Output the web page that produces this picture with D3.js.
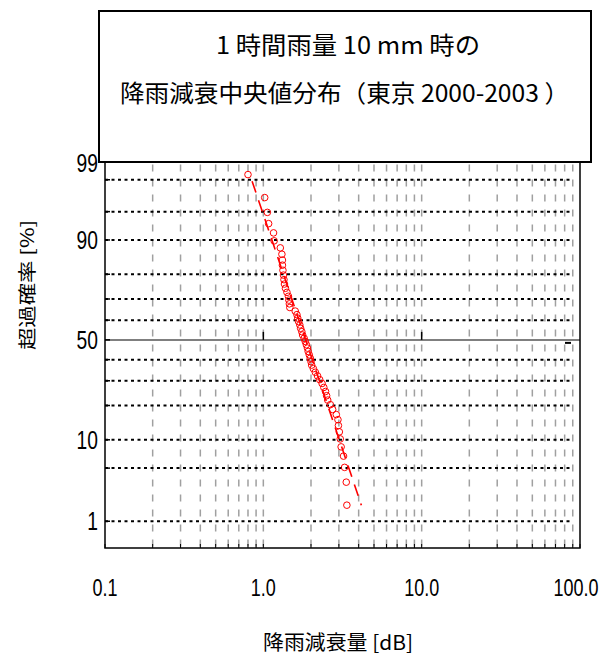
<!DOCTYPE html>
<html>
<head>
<meta charset="utf-8">
<title>降雨減衰中央値分布</title>
<script src="https://d3js.org/d3.v7.min.js"></script>
<style type="text/css">
    body { margin: 0; background: #fff; }
    svg { display: block; }
    .num { font-family: "Liberation Sans", Arial, sans-serif; fill: #000; }
    .jp { font-family: "Noto Sans CJK JP", sans-serif; fill: #000; }
</style>
</head>
<body>
<div id="chart"></div>
<script type="text/javascript">

    // x axis: attenuation [dB] on log scale
    var xTicks = [0.1, 1, 10, 100];
    var xTickLabels = ["0.1", "1.0", "10.0", "100.0"];

    // y axis: exceedance probability [%] on normal probability paper
    var yLines = [98, 95, 90, 80, 70, 60, 40, 30, 20, 10, 5, 1];
    var yLabels = [99, 90, 50, 10, 1];

    // plotted points
    var exceedP = [98.3, 96.6, 94.9, 93.2, 91.5, 89.8, 88.1, 86.4, 84.7, 83.1,
                   81.4, 79.7, 78.0, 76.3, 74.6, 72.9, 71.2, 69.5, 67.8, 66.1,
                   64.4, 62.7, 61.0, 59.3, 57.6, 55.9, 54.2, 52.5, 50.8, 49.2,
                   47.5, 45.8, 44.1, 42.4, 40.7, 39.0, 37.3, 35.6, 33.9, 32.2,
                   30.5, 28.8, 27.1, 25.4, 23.7, 22.0, 20.3, 18.6, 16.9, 15.3,
                   13.6, 11.9, 10.2, 8.5, 6.8, 5.1, 3.4, 1.7];
    var attenDB = [0.80, 1.02, 1.06, 1.08, 1.16, 1.17, 1.28, 1.31, 1.32, 1.32,
                   1.33, 1.34, 1.35, 1.36, 1.38, 1.41, 1.44, 1.45, 1.46, 1.47,
                   1.59, 1.63, 1.65, 1.67, 1.70, 1.72, 1.75, 1.77, 1.81, 1.84,
                   1.87, 1.90, 1.92, 1.95, 1.98, 2.00, 2.02, 2.07, 2.13, 2.20,
                   2.27, 2.35, 2.41, 2.47, 2.51, 2.55, 2.65, 2.74, 2.89, 2.96,
                   2.98, 3.02, 3.06, 3.10, 3.21, 3.26, 3.34, 3.37];

    // fitted log-normal line, two end points
    var fitDB = [0.822, 4.16];
    var fitP = [98.3, 1.7];

    var width = 604, height = 655;
    var pLeft = 105, pRight = 580, pTop = 158.5, pBottom = 548;

    // inverse normal cdf (Acklam)
    function probit(p) {
        var a = [-39.6968302866538, 220.946098424521, -275.928510446969, 138.357751867269, -30.6647980661472, 2.50662827745924],
            b = [-54.4760987982241, 161.585836858041, -155.698979859887, 66.8013118877197, -13.2806815528857],
            c = [-0.00778489400243029, -0.322396458041136, -2.40075827716184, -2.54973253934373, 4.37466414146497, 2.93816398269878],
            d = [0.00778469570904146, 0.32246712907004, 2.445134137143, 3.75440866190742];
        var q, r;
        if (p < 0.02425) {
            q = Math.sqrt(-2 * Math.log(p));
            return (((((c[0]*q+c[1])*q+c[2])*q+c[3])*q+c[4])*q+c[5]) / ((((d[0]*q+d[1])*q+d[2])*q+d[3])*q+1);
        } else if (p > 1 - 0.02425) {
            q = Math.sqrt(-2 * Math.log(1 - p));
            return -(((((c[0]*q+c[1])*q+c[2])*q+c[3])*q+c[4])*q+c[5]) / ((((d[0]*q+d[1])*q+d[2])*q+d[3])*q+1);
        }
        q = p - 0.5; r = q * q;
        return (((((a[0]*r+a[1])*r+a[2])*r+a[3])*r+a[4])*r+a[5])*q / (((((b[0]*r+b[1])*r+b[2])*r+b[3])*r+b[4])*r+1);
    }

    var x = d3.scaleLog().domain([0.1, 100]).range([pLeft, pRight]);
    var zScale = d3.scaleLinear().domain([probit(0.0038), probit(0.99)]).range([pBottom, pTop]);
    function y(p) { return zScale(probit(p / 100)); }

    var svg = d3.select("#chart").append("svg")
        .attr("width", width)
        .attr("height", height);

    // squeeze a text to a narrower width (the original font is condensed)
    function condense(sel, f) {
        sel.each(function() {
            var w = this.getComputedTextLength();
            d3.select(this).attr("textLength", w * f).attr("lengthAdjust", "spacingAndGlyphs");
        });
    }

    var plot = svg.append("g");

    // vertical dashed gridlines
    plot.selectAll(".vgrid")
        .data(x.ticks().filter(function(d) { return d > 0.1 && d < 100; }))
        .enter().append("line")
        .attr("class", "vgrid")
        .attr("x1", function(d) { return x(d); })
        .attr("x2", function(d) { return x(d); })
        .attr("y1", pTop + 6)
        .attr("y2", pBottom)
        .attr("stroke", "#a0a0a0")
        .attr("stroke-width", 1.5)
        .attr("stroke-dasharray", "7,8");

    // horizontal dotted gridlines
    plot.selectAll(".hgrid")
        .data(yLines)
        .enter().append("line")
        .attr("class", "hgrid")
        .attr("x1", pLeft)
        .attr("x2", pRight - 7)
        .attr("y1", function(d) { return y(d); })
        .attr("y2", function(d) { return y(d); })
        .attr("stroke", "#000")
        .attr("stroke-width", 2)
        .attr("stroke-dasharray", "3,3.5");

    // 50% line with major ticks
    plot.append("line")
        .attr("x1", pLeft).attr("x2", pRight)
        .attr("y1", y(50)).attr("y2", y(50))
        .attr("stroke", "#555")
        .attr("stroke-width", 1.5);

    plot.selectAll(".major")
        .data(xTicks.filter(function(d) { return d > 0.1 && d < 100; }))
        .enter().append("line")
        .attr("class", "major")
        .attr("x1", function(d) { return x(d); })
        .attr("x2", function(d) { return x(d); })
        .attr("y1", y(50) - 8)
        .attr("y2", y(50))
        .attr("stroke", "#000")
        .attr("stroke-width", 1.5);

    // small mark near right end of the 50% line
    plot.append("line")
        .attr("x1", pRight - 15).attr("x2", pRight - 9)
        .attr("y1", y(50) + 3).attr("y2", y(50) + 3)
        .attr("stroke", "#000")
        .attr("stroke-width", 2);

    // minor ticks on axes
    plot.selectAll(".btick")
        .data(x.ticks())
        .enter().append("line")
        .attr("x1", function(d) { return x(d); })
        .attr("x2", function(d) { return x(d); })
        .attr("y1", pBottom - 4)
        .attr("y2", pBottom)
        .attr("stroke", "#000");

    plot.selectAll(".ltick")
        .data(yLines.concat([50]))
        .enter().append("line")
        .attr("x1", pLeft)
        .attr("x2", pLeft + 5)
        .attr("y1", function(d) { return y(d); })
        .attr("y2", function(d) { return y(d); })
        .attr("stroke", "#000")
        .attr("stroke-width", 1.5);

    // frame
    plot.append("path")
        .attr("d", "M" + pLeft + "," + pTop + "V" + pBottom + "H" + pRight + "V" + pTop)
        .attr("fill", "none")
        .attr("stroke", "#000")
        .attr("stroke-width", 1.5);

    // fitted line
    plot.append("line")
        .attr("x1", x(fitDB[0])).attr("y1", y(fitP[0]))
        .attr("x2", x(fitDB[1])).attr("y2", y(fitP[1]))
        .attr("stroke", "#f00")
        .attr("stroke-width", 1.6)
        .attr("stroke-dasharray", "12,8")
        .attr("stroke-dashoffset", -7);

    // data points
    plot.selectAll(".pt")
        .data(attenDB.map(function(d, i) { return { db: d, p: exceedP[i] }; }))
        .enter().append("circle")
        .attr("class", "pt")
        .attr("cx", function(d) { return x(d.db); })
        .attr("cy", function(d) { return y(d.p); })
        .attr("r", 3.3)
        .attr("fill", "none")
        .attr("stroke", "#f00")
        .attr("stroke-width", 1);

    // tick labels
    svg.selectAll(".xlab")
        .data(xTicks)
        .enter().append("text")
        .attr("class", "num")
        .attr("x", function(d) { return Math.min(x(d), 576); })
        .attr("y", 596)
        .attr("text-anchor", "middle")
        .style("font-size", "24px")
        .text(function(d, i) { return xTickLabels[i]; })
        .call(condense, 0.75);

    svg.selectAll(".ylab")
        .data(yLabels)
        .enter().append("text")
        .attr("class", "num")
        .attr("x", 98)
        .attr("y", function(d) { return Math.max(y(d), 163) + 9; })
        .attr("text-anchor", "end")
        .style("font-size", "25px")
        .text(function(d) { return d; })
        .call(condense, 0.77);

    // axis titles
    svg.append("text")
        .attr("class", "jp")
        .attr("x", 338).attr("y", 641)
        .attr("text-anchor", "middle")
        .attr("dominant-baseline", "central")
        .style("font-size", "20px")
        .attr("textLength", 150)
        .attr("lengthAdjust", "spacingAndGlyphs")
        .text("降雨減衰量 [dB]");

    svg.append("text")
        .attr("class", "jp")
        .attr("transform", "translate(26,285) rotate(-90)")
        .attr("text-anchor", "middle")
        .attr("dominant-baseline", "central")
        .style("font-size", "18px")
        .attr("textLength", 130)
        .attr("lengthAdjust", "spacingAndGlyphs")
        .text("超過確率 [%]");

    // title box
    svg.append("rect")
        .attr("x", 99).attr("y", 11)
        .attr("width", 492).attr("height", 151)
        .attr("fill", "#fff")
        .attr("stroke", "#000")
        .attr("stroke-width", 2);

    svg.append("text")
        .attr("class", "jp")
        .attr("x", 348).attr("y", 43)
        .attr("text-anchor", "middle")
        .attr("dominant-baseline", "central")
        .style("font-size", "24px")
        .attr("textLength", 264)
        .attr("lengthAdjust", "spacingAndGlyphs")
        .text("1 時間雨量 10 mm 時の");

    svg.append("text")
        .attr("class", "jp")
        .attr("x", 344.5).attr("y", 91)
        .attr("text-anchor", "middle")
        .attr("dominant-baseline", "central")
        .style("font-size", "24px")
        .attr("textLength", 449)
        .attr("lengthAdjust", "spacingAndGlyphs")
        .text("降雨減衰中央値分布（東京 2000-2003 ）");

</script>
</body>
</html>
